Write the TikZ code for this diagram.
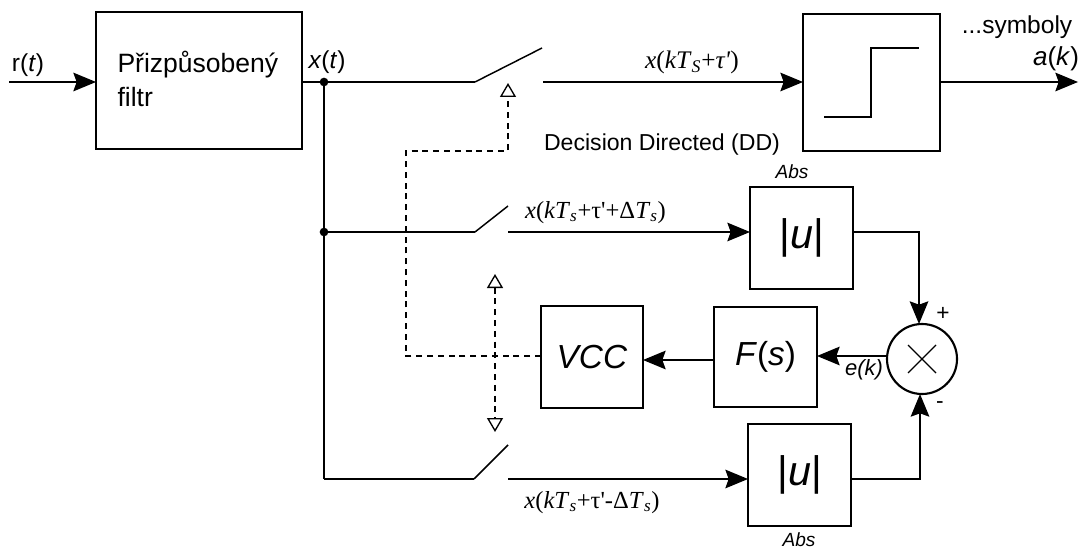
\documentclass[tikz,border=0pt]{standalone}
\usepackage{fontspec}
\setmainfont{Liberation Sans}
\newfontfamily\tmsfont{Liberation Serif}
\usetikzlibrary{arrows.meta}
\newcommand{\fs}[1]{\fontsize{#1}{#1}\selectfont}
\newcommand{\sgn}[1]{{\tmsfont\fs{18.4}#1}}
\newcommand{\sbi}[1]{\textsubscript{\textit{#1}}}
\tikzset{
    blockbox/.style 2 args={draw, line width=1.15pt, inner sep=0pt, outer sep=0pt, minimum width=#1*0.75pt, minimum height=#2*0.75pt},
    sigline/.style={line width=1.1pt},
    sigarrow/.style={line width=1.1pt, -{Stealth[length=17pt, width=14pt, inset=2.5pt]}},
    ctrlline/.style={line width=1pt, dash pattern=on 4.5pt off 3.6pt},
    ctrlarrow/.style={ctrlline, -{Triangle[open, length=10.5pt, width=12pt, line width=1pt]}},
    ctrlboth/.style={ctrlline, {Triangle[open, length=10.5pt, width=12pt, line width=1pt]}-{Triangle[open, length=10.5pt, width=12pt, line width=1pt]}},
    junction/.style={circle, fill, inner sep=0pt, minimum size=6.5pt},
    txt/.style={inner sep=0pt, anchor=base, font=\fs{18.4}},
}
\begin{document}
\begin{tikzpicture}[x=0.75pt, y=-0.75pt]
    \useasboundingbox (0,0) rectangle (1080,549);

    % ==================== bloky ====================
    \node[blockbox={206}{137}, font=\fs{19.9}, align=left, text width=163*0.75pt] (flt) at (199,80.5) {\raisebox{2.5pt}{Přizpůsobený}\\[5.5pt]\raisebox{2.5pt}{filtr}};
    \node[blockbox={137}{137}] (dec) at (871.5,82.5) {};
    \node[blockbox={103}{102}, font=\fs{31}] (absa) at (801.5,238) {|\textit{u}|};
    \node[blockbox={103}{102}, font=\fs{31}] (absb) at (799.5,475) {|\textit{u}|};
    \node[blockbox={103}{100}, font=\fs{25}] (fil) at (765.5,357) {\textit{F}(\textit{s})};
    \node[blockbox={102}{102}, font=\fs{25}] (vcc) at (592,357) {\textit{VCC}};
    \node[draw, circle, line width=1.6pt, inner sep=0pt, outer sep=0pt, minimum size=70*0.75pt] (mul) at (922,359) {};
    \draw[line width=1pt] (mul.center) ++(-14,-14) -- ++(28,28);
    \draw[line width=1pt] (mul.center) ++(14,-14) -- ++(-28,28);
    \draw[line width=1.5pt] (824,117) -- (871,117) -- (871,48) -- (919,48);

    % ==================== body a spinace ====================
    \coordinate (inp) at (9,82);
    \coordinate (out) at (1078,82);
    \node[junction] (xa) at (324,82) {};
    \node[junction] (xb) at (324,232) {};
    \coordinate (xc) at (324,479);
    \coordinate (swa) at (475,82);
    \coordinate (swat) at (542,48);
    \coordinate (swar) at (543,82);
    \coordinate (swb) at (475,232);
    \coordinate (swbt) at (508,206);
    \coordinate (swbr) at (508,232);
    \coordinate (swc) at (474,479);
    \coordinate (swct) at (508,445);
    \coordinate (swcr) at (508,479);

    % ==================== hlavni vetve ====================
    \draw[sigarrow] (inp) -- (inp -| flt.west);
    \draw[sigline] (xa -| flt.east) -- (xa.center);
    \draw[sigline] (xa.center) -- (swa);
    \draw[sigline] (swa) -- (swat);
    \draw[sigarrow] (swar) -- (swar -| dec.west);
    \draw[sigarrow] (out -| dec.east) -- (out);
    \draw[sigline] (xa.center) -- (xc);
    \draw[sigline] (xc) -- (swc);
    \draw[sigline] (swc) -- (swct);
    \draw[sigline] (xb.center) -- (swb);
    \draw[sigline] (swb) -- (swbt);
    \draw[sigarrow] (swbr) -- (swbr -| absa.west);
    \draw[sigarrow] (swcr) -- (swcr -| absb.west);

    % ==================== zpetna vazba ====================
    \coordinate (aout) at (919,232);
    \coordinate (bout) at (920,479);
    \draw[sigarrow] (aout -| absa.east) -- (aout) -- (aout |- mul.north);
    \draw[sigarrow] (bout -| absb.east) -- (bout) -- (bout |- mul.south);
    \coordinate (ek) at (887,356);
    \draw[sigarrow] (ek) -- (ek -| fil.east);
    \coordinate (fv) at (714,360);
    \draw[sigarrow] (fv) -- (fv -| vcc.east);

    % ==================== rizeni spinacu ====================
    \coordinate (ctl) at (541,356);
    \coordinate (ctlb) at (406,356);
    \coordinate (ctlc) at (406,151);
    \coordinate (ctld) at (508,151);
    \coordinate (ctle) at (508,83);
    \coordinate (ctlf) at (495,274);
    \coordinate (ctlg) at (495,432);
    \draw[ctrlarrow] (ctl) -- (ctlb) -- (ctlc) -- (ctld) -- (ctle);
    \draw[ctrlboth] (ctlf) -- (ctlg);

    % ==================== popisy ====================
    \node[txt] (rt) at (28,72) {r(\textit{t})};
    \node[txt] (xt) at (327,69) {\textit{x}(\textit{t})};
    \node[txt] (sym) at (1017,34) {...symboly};
    \node[txt, font=\fs{19.5}] (ak) at (1056,66) {\textit{a}(\textit{k})};
    \node[txt, font=\fs{17.3}] (dd) at (662,151) {Decision Directed (DD)};
    \node[txt, font=\fs{14.3}\itshape] (absat) at (792,178) {Abs};
    \node[txt, font=\fs{14.3}\itshape] (absbt) at (799,546) {Abs};
    \node[txt, font=\fs{16.5}\itshape] (et) at (864,375) {e(k)};
    \node[txt, font=\fs{17}] (plus) at (943,320) {+};
    \node[txt, font=\fs{17}] (minus) at (940,408) {-};
    \node[txt] (ltop) at (692,69) {\sgn{\fs{19}\textit{x}(\textit{kT}\sbi{S}+\textit{τ'})}};
    \node[txt] (lmid) at (595.5,218) {\sgn{\textit{x}(\textit{kT}\sbi{s}+τ'+Δ\textit{T}\sbi{s})}};
    \node[txt] (lbot) at (592,508) {\sgn{\textit{x}(\textit{kT}\sbi{s}+τ'-Δ\textit{T}\sbi{s})}};
\end{tikzpicture}
\end{document}
